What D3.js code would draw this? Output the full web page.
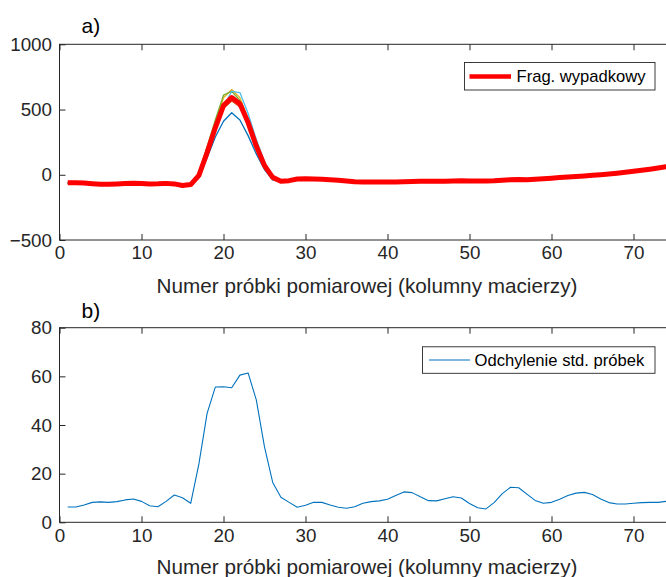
<!DOCTYPE html>
<html>
<head>
<meta charset="utf-8">
<script src="https://cdn.jsdelivr.net/npm/d3@7"></script>
<style>
  html, body { margin: 0; padding: 0; background: #fff; }
  svg { display: block; font-family: "Liberation Sans", Arial, sans-serif; }
</style>
</head>
<body>
<svg id="chart" width="666" height="577"></svg>
<script>
// Sample index (column number of the matrix)
const samples = d3.range(1, 76);

// Individual measurement fragments (panel a, thin lines)
const fragBlue = [-64,-63,-65,-70,-74,-73,-71,-68,-66,-68,-71,-70,-68,-71,
  -80,-78,-20,130,290,410,475,420,300,160,40,-40,-55,-48,
  -35,-31,-33,-36,-39,-43,-49,-54,-57,-58,-57,-57,
  -57,-56,-54,-52,-52,-52,-51,-49,-48,-49,-50,-50,-49,
  -47,-46,-45,-44,-40,-34,-28,-23,-19,-15,-10,-5,0,
  5,11,18,26,34,42,51,61,71];
const fragOrange = [-60,-61,-62,-67,-71,-71,-69,-66,-64,-66,-69,-68,-65,-69,
  -82,-75,0,170,350,510,565,520,390,215,70,-20,-48,-44,
  -32,-29,-31,-34,-37,-41,-47,-52,-55,-55,-54,-54,
  -54,-52,-49,-47,-47,-48,-47,-45,-44,-46,-47,-47,-44,
  -36,-28,-25,-30,-33,-30,-26,-21,-17,-13,-9,-4,1,
  6,12,19,27,35,43,52,62,72];
const fragYellow = [-61,-62,-63,-68,-71,-72,-70,-67,-65,-66,-69,-69,-66,-72,
  -88,-72,10,200,400,590,653,590,430,240,80,-15,-45,-42,
  -31,-29,-31,-34,-37,-41,-47,-52,-55,-55,-54,-54,
  -54,-53,-51,-49,-49,-49,-48,-46,-45,-46,-47,-47,-45,
  -41,-37,-36,-37,-34,-30,-26,-21,-17,-13,-8,-3,2,
  7,13,20,28,36,44,53,63,73];
const fragPurple = [-63,-62,-64,-69,-73,-73,-71,-68,-66,-68,-71,-70,-67,-70,
  -80,-76,-5,170,360,540,600,560,410,225,75,-18,-50,-45,
  -33,-30,-32,-35,-38,-42,-48,-53,-56,-56,-55,-55,
  -55,-53,-50,-48,-48,-49,-48,-46,-45,-47,-48,-48,-45,
  -38,-31,-29,-32,-35,-32,-28,-24,-20,-16,-12,-6,-1,
  5,11,18,26,34,42,51,61,71];
const fragGreen = [-62,-61,-62,-67,-71,-72,-70,-66,-64,-66,-69,-68,-66,-72,
  -92,-72,15,215,420,610,640,570,400,215,65,-25,-52,-44,
  -32,-30,-32,-35,-38,-42,-48,-53,-56,-56,-55,-55,
  -55,-54,-52,-50,-50,-50,-49,-47,-46,-47,-48,-48,-46,
  -43,-40,-39,-40,-35,-30,-26,-21,-17,-13,-9,-4,1,
  6,12,19,27,35,43,52,62,72];
const fragCyan = [-62,-63,-63,-68,-72,-72,-70,-67,-65,-67,-70,-69,-66,-69,
  -80,-80,-25,140,340,520,640,630,470,270,100,-10,-55,-48,
  -34,-31,-33,-36,-39,-43,-49,-54,-57,-57,-56,-56,
  -56,-55,-53,-51,-51,-51,-50,-48,-47,-48,-49,-49,-48,
  -46,-44,-43,-42,-37,-31,-25,-20,-16,-12,-8,-4,1,
  6,12,19,27,35,43,52,62,72];

// Resultant fragment (panel a, thick red line)
const fragResult = [-62,-62,-63,-68,-72,-72,-70,-67,-65,-67,-70,-69,-66,-70,
  -82,-75,-5,170,360,530,592,545,400,220,70,-20,-50,-45,
  -33,-30,-32,-35,-38,-42,-48,-53,-56,-56,-55,-55,
  -55,-54,-52,-50,-50,-50,-49,-47,-46,-47,-48,-48,-46,
  -42,-38,-37,-38,-34,-30,-26,-21,-17,-13,-9,-4,1,
  6,12,19,27,35,43,52,62,72];

// Standard deviation of samples (panel b)
const sampleStd = [6.3,6.3,7.1,8.2,8.4,8.2,8.5,9.2,9.6,8.6,6.8,6.4,8.6,11.2,
  10.1,7.8,24,44.8,55.6,55.7,55.3,60.5,61.4,50.3,31,16.4,10.3,8.2,
  6.2,7,8.2,8.2,7.1,6.2,5.8,6.4,7.8,8.5,8.8,9.5,
  11,12.5,12.2,10.5,8.9,8.8,9.7,10.5,10,7.7,6,5.5,8.1,
  11.8,14.4,14.2,11.6,9,7.8,8.2,9.5,11,12,12.3,11.4,9.6,8.1,
  7.5,7.5,7.8,8.1,8.2,8.2,8.6,8.9];

const thinSeries = [
  { values: fragBlue,   color: "#0072BD" },
  { values: fragOrange, color: "#D95319" },
  { values: fragYellow, color: "#EDB120" },
  { values: fragPurple, color: "#7E2F8E" },
  { values: fragGreen,  color: "#77AC30" },
  { values: fragCyan,   color: "#4DBEEE" }
];

const xTicks = [0, 10, 20, 30, 40, 50, 60, 70];
const yTicksA = [-500, 0, 500, 1000];
const yTicksB = [0, 20, 40, 60, 80];
const xLabel = "Numer próbki pomiarowej (kolumny macierzy)";

const axisColor = "#262626";
const tickFont = 18.8, labelFont = 20.7, legendFont = 16.6;

const svg = d3.select("#chart");

function panel(cfg) {
  const g = svg.append("g");
  const x = d3.scaleLinear().domain([0, 75]).range([cfg.left, cfg.right]);
  const y = d3.scaleLinear().domain(cfg.yDomain).range([cfg.bottom, cfg.top]);

  // bottom axis with inward ticks
  const gx = g.append("g").attr("transform", `translate(0,${cfg.bottom})`)
    .call(d3.axisBottom(x).tickValues(xTicks).tickFormat(d3.format("d"))
      .tickSizeInner(-6).tickSizeOuter(0).tickPadding(6));
  // top axis: ticks only
  const gt = g.append("g").attr("transform", `translate(0,${cfg.top})`)
    .call(d3.axisTop(x).tickValues(xTicks).tickFormat("")
      .tickSizeInner(-6).tickSizeOuter(0));
  // left axis
  const gy = g.append("g").attr("transform", `translate(${cfg.left},0)`)
    .call(d3.axisLeft(y).tickValues(cfg.yTicks).tickFormat(d3.format("d"))
      .tickSizeInner(-6).tickSizeOuter(0).tickPadding(7.5));
  [gx, gt, gy].forEach(a => {
    a.select(".domain").remove();
    a.selectAll("line").attr("stroke", axisColor).attr("stroke-width", 1);
    a.selectAll("text").attr("fill", axisColor).attr("font-size", tickFont)
      .attr("font-family", "Liberation Sans, Arial, sans-serif");
  });

  // box
  g.append("rect")
    .attr("x", cfg.left).attr("y", cfg.top)
    .attr("width", cfg.right - cfg.left).attr("height", cfg.bottom - cfg.top)
    .attr("fill", "none").attr("stroke", axisColor).attr("stroke-width", 1);

  // x label
  g.append("text")
    .attr("x", (cfg.left + cfg.right) / 2).attr("y", cfg.xLabelY)
    .attr("text-anchor", "middle").attr("font-size", labelFont)
    .attr("fill", axisColor).text(xLabel);

  // panel tag
  g.append("text").attr("x", 81.5).attr("y", cfg.tagY)
    .attr("font-size", 21).attr("fill", "#000").text(cfg.tag);

  return { g, x, y };
}

// ---- panel a ----
const A = panel({ left: 59.5, right: 674.5, top: 44.3, bottom: 240,
  yDomain: [-500, 1000], yTicks: yTicksA, xLabelY: 292.5, tagY: 33.3, tag: "a)" });

const lineA = d3.line().x((d, i) => A.x(samples[i])).y(d => A.y(d));
A.g.selectAll(".thin").data(thinSeries).join("path")
  .attr("class", "thin")
  .attr("d", s => lineA(s.values))
  .attr("fill", "none").attr("stroke", s => s.color)
  .attr("stroke-width", 1.3).attr("stroke-linejoin", "round");
A.g.append("path").attr("d", lineA(fragResult))
  .attr("fill", "none").attr("stroke", "#FF0000")
  .attr("stroke-width", 5).attr("stroke-linejoin", "round");

// legend a
const legA = A.g.append("g");
legA.append("rect").attr("x", 464.5).attr("y", 62.5).attr("width", 190.5).attr("height", 27.5)
  .attr("fill", "#fff").attr("stroke", axisColor).attr("stroke-width", 0.9);
legA.append("line").attr("x1", 469.5).attr("x2", 511).attr("y1", 76.5).attr("y2", 76.5)
  .attr("stroke", "#FF0000").attr("stroke-width", 4.5);
legA.append("text").attr("x", 516.5).attr("y", 82.3).attr("font-size", legendFont)
  .attr("fill", "#000").text("Frag. wypadkowy");

// ---- panel b ----
const B = panel({ left: 59.5, right: 674.5, top: 327.7, bottom: 522.3,
  yDomain: [0, 80], yTicks: yTicksB, xLabelY: 573.5, tagY: 318.3, tag: "b)" });

const lineB = d3.line().x((d, i) => B.x(samples[i])).y(d => B.y(d));
B.g.append("path").attr("d", lineB(sampleStd))
  .attr("fill", "none").attr("stroke", "#0072BD")
  .attr("stroke-width", 1.1).attr("stroke-linejoin", "round");

// legend b
const legB = B.g.append("g");
legB.append("rect").attr("x", 422.5).attr("y", 346.8).attr("width", 232.5).attr("height", 26.5)
  .attr("fill", "#fff").attr("stroke", axisColor).attr("stroke-width", 0.9);
legB.append("line").attr("x1", 429).attr("x2", 470).attr("y1", 360).attr("y2", 360)
  .attr("stroke", "#0072BD").attr("stroke-width", 1.1);
legB.append("text").attr("x", 474.5).attr("y", 365.8).attr("font-size", legendFont)
  .attr("fill", "#000").text("Odchylenie std. próbek");
</script>
</body>
</html>
